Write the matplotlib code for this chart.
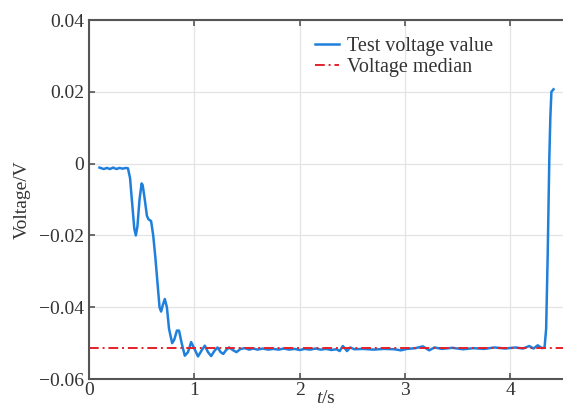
import matplotlib
matplotlib.use('Agg')
import matplotlib.pyplot as plt

plt.rcParams['font.family'] = ['Liberation Serif', 'DejaVu Serif']
plt.rcParams['mathtext.fontset'] = 'custom'
plt.rcParams['mathtext.it'] = 'Liberation Serif:italic'
plt.rcParams['mathtext.rm'] = 'Liberation Serif'

# test voltage curve
t = [0.10, 0.14, 0.17, 0.20, 0.23, 0.26, 0.29, 0.32, 0.35, 0.37,
     0.39, 0.41, 0.43, 0.445, 0.46, 0.48, 0.50, 0.51, 0.53, 0.55,
     0.565, 0.59, 0.61, 0.63, 0.65, 0.67, 0.685, 0.70, 0.72, 0.74,
     0.76, 0.79, 0.81, 0.835, 0.855, 0.88, 0.91, 0.94, 0.97, 1.00,
     1.035, 1.07, 1.10, 1.13, 1.16, 1.19, 1.22, 1.25, 1.275, 1.30,
     1.33, 1.37, 1.40, 1.44, 1.48, 1.52, 1.56, 1.60, 1.65, 1.70,
     1.75, 1.80, 1.85, 1.90, 1.95, 2.00, 2.05, 2.10, 2.15, 2.20,
     2.25, 2.30, 2.35, 2.38, 2.41, 2.45, 2.48, 2.52, 2.60, 2.70,
     2.80, 2.90, 2.96, 3.02, 3.10, 3.17, 3.23, 3.28, 3.35, 3.45,
     3.55, 3.65, 3.75, 3.85, 3.95, 4.05, 4.12, 4.18, 4.22, 4.26,
     4.30, 4.325, 4.34, 4.355, 4.37, 4.38, 4.39, 4.41]
v = [-0.0011, -0.0015, -0.0012, -0.0015, -0.0011, -0.0015, -0.0012, -0.0014, -0.0012, -0.0013,
     -0.0040, -0.0110, -0.0180, -0.0200, -0.0175, -0.0100, -0.0055, -0.0060, -0.0100, -0.0145,
     -0.0155, -0.0160, -0.0200, -0.0260, -0.0330, -0.0400, -0.0412, -0.0395, -0.0377, -0.0400,
     -0.0460, -0.0500, -0.0490, -0.0465, -0.0465, -0.0500, -0.0535, -0.0525, -0.0497, -0.0515,
     -0.0537, -0.0520, -0.0507, -0.0525, -0.0536, -0.0522, -0.0512, -0.0525, -0.0530, -0.0520,
     -0.0512, -0.0520, -0.0525, -0.0516, -0.0514, -0.0518, -0.0515, -0.0518, -0.0515, -0.0518,
     -0.0516, -0.0518, -0.0515, -0.0518, -0.0516, -0.0519, -0.0516, -0.0518, -0.0515, -0.0518,
     -0.0516, -0.0519, -0.0517, -0.0522, -0.0508, -0.0522, -0.0512, -0.0517, -0.0516, -0.0518,
     -0.0516, -0.0517, -0.0520, -0.0516, -0.0514, -0.0509, -0.0520, -0.0512, -0.0516, -0.0513,
     -0.0517, -0.0514, -0.0516, -0.0512, -0.0515, -0.0512, -0.0515, -0.0508, -0.0515, -0.0506,
     -0.0514, -0.0512, -0.0460, -0.0250, 0.0014, 0.0130, 0.0200, 0.0207]
median_v = -0.0513

xticks = [0, 1, 2, 3, 4]
yticks = [-0.06, -0.04, -0.02, 0, 0.02, 0.04]
ytick_labels = ['\u22120.06', '\u22120.04', '\u22120.02', '0', '0.02', '0.04']

fig = plt.figure(figsize=(5.63, 4.17), dpi=100)
ax = fig.add_axes([0.158, 0.091, 0.842, 0.861])

ax.plot(t, v, color='#1f80dc', linewidth=1.8, label='Test voltage value')
ax.axhline(median_v, color='#e5202a', linestyle=(0, (5, 2, 1, 2)), linewidth=1.4,
           label='Voltage median')

ax.set_xlim(0, 4.5)
ax.set_ylim(-0.06, 0.04)
ax.set_xticks(xticks)
ax.set_yticks(yticks)
ax.set_yticklabels(ytick_labels)
ax.grid(True, color='#e4e4e4', linewidth=0.9)
ax.set_axisbelow(True)

for side in ['left', 'bottom', 'top']:
    ax.spines[side].set_color('#555555')
    ax.spines[side].set_linewidth(1.5)
ax.spines['right'].set_visible(False)
ax.tick_params(direction='in', top=True, right=False, labelsize=14,
               colors='#555555', labelcolor='#333333', length=4, width=1.2)
ax.tick_params(axis='x', pad=2)

ax.set_xlabel('$t$/s', fontsize=14, color='#333333', labelpad=-6)
ax.set_ylabel('Voltage/V', fontsize=14, color='#333333', labelpad=6)

leg = ax.legend(loc='upper left', bbox_to_anchor=(0.46, 0.975), frameon=False,
                fontsize=14.5, handlelength=1.2, handletextpad=0.4,
                labelspacing=0.1, borderaxespad=0)
for txt in leg.get_texts():
    txt.set_color('#333333')

fig.savefig('out.png', dpi=100)
